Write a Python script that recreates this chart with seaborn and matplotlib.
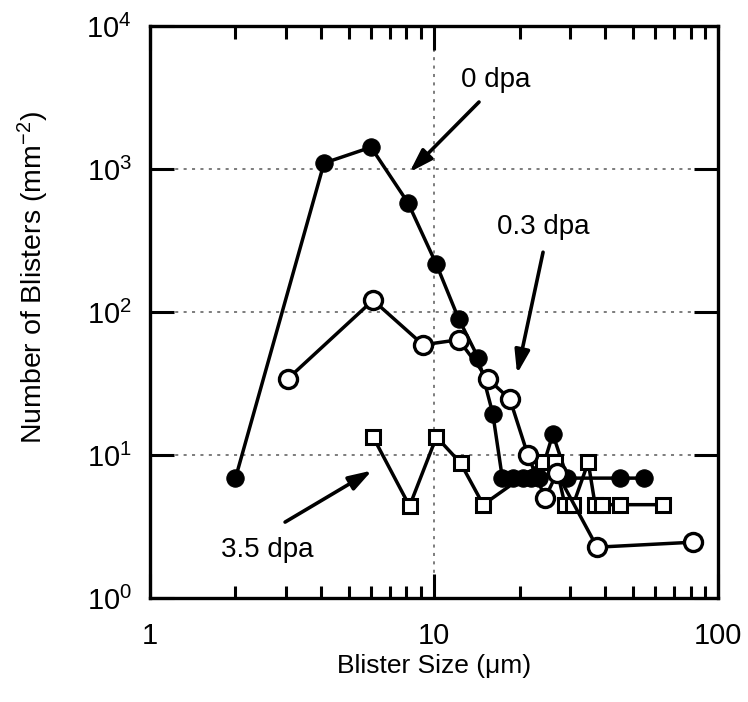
import numpy as np
import pandas as pd
import matplotlib
matplotlib.use("Agg")
import matplotlib.pyplot as plt
import matplotlib.ticker as mticker
import seaborn as sns

# 0 dpa (filled circles)
size_0 = [2.0, 4.1, 6.0, 8.1, 10.2, 12.2, 14.3, 16.1, 17.4, 19.0, 20.5, 22.0, 23.5, 26.2, 29.5, 45.0, 55.0]
num_0 = [6.9, 1100, 1420, 580, 215, 90, 48, 19.5, 6.9, 6.9, 6.9, 6.9, 6.9, 14.0, 6.9, 6.9, 6.9]

# 0.3 dpa (open circles)
size_03 = [3.05, 6.1, 9.15, 12.2, 15.5, 18.5, 21.4, 24.6, 27.1, 37.5, 81.7]
num_03 = [34, 121, 59, 64, 34, 24.6, 10.0, 5.0, 7.5, 2.27, 2.46]

# 3.5 dpa (open squares)
size_35 = [6.1, 8.2, 10.2, 12.4, 14.9, 24.2, 26.7, 28.9, 30.9, 34.9, 36.9, 39.0, 45.2, 64.0]
num_35 = [13.4, 4.4, 13.4, 8.8, 4.5, 8.9, 8.9, 4.5, 4.5, 8.9, 4.5, 4.5, 4.5, 4.5]

sns.set_style("ticks")
plt.rcParams['font.family'] = ['Liberation Sans', 'DejaVu Sans']
plt.rcParams['mathtext.fontset'] = 'custom'
plt.rcParams['mathtext.rm'] = 'Liberation Sans'
plt.rcParams['mathtext.it'] = 'Liberation Sans'
plt.rcParams['text.color'] = 'black'
plt.rcParams['axes.labelcolor'] = 'black'
plt.rcParams['xtick.color'] = 'black'
plt.rcParams['ytick.color'] = 'black'

fig = plt.figure(figsize=(7.48, 7.02), dpi=100)
ax = fig.add_axes([0.2005, 0.148, 0.7595, 0.815])

lw = 2.5
sns.lineplot(x=size_0, y=num_0, ax=ax, sort=False, estimator=None, color='black', lw=lw,
             marker='o', markersize=12.5, markerfacecolor='black', markeredgecolor='black', zorder=3)
sns.lineplot(x=size_35, y=num_35, ax=ax, sort=False, estimator=None, color='black', lw=lw,
             marker='s', markersize=10, markerfacecolor='white', markeredgecolor='black',
             markeredgewidth=2.2, zorder=4)
sns.lineplot(x=size_03, y=num_03, ax=ax, sort=False, estimator=None, color='black', lw=lw,
             marker='o', markersize=13, markerfacecolor='white', markeredgecolor='black',
             markeredgewidth=2.4, zorder=5)

ax.set_xscale('log')
ax.set_yscale('log')
ax.set_xlim(1, 100)
ax.set_ylim(1, 1e4)

ax.xaxis.set_major_locator(mticker.FixedLocator([1, 10, 100]))
ax.xaxis.set_major_formatter(mticker.FuncFormatter(lambda v, p: f"{v:g}"))
ax.xaxis.set_minor_locator(mticker.LogLocator(base=10, subs=np.arange(2, 10)))
ax.xaxis.set_minor_formatter(mticker.NullFormatter())
ax.yaxis.set_major_locator(mticker.LogLocator(base=10, numticks=10))
ax.yaxis.set_minor_locator(mticker.NullLocator())

ax.tick_params(which='both', direction='in', top=True, right=True, width=2.2)
ax.tick_params(which='major', length=17, labelsize=21)
ax.tick_params(axis='x', which='major', pad=17)
ax.tick_params(axis='y', which='major', pad=13)
ax.tick_params(which='minor', length=9)
for s in ax.spines.values():
    s.set_linewidth(2.4)
    s.set_color('black')

ax.grid(which='major', color='0.35', linestyle=(0, (2, 3.5)), lw=1.1)
ax.set_axisbelow(True)

ax.set_xlabel("Blister Size (μm)", fontsize=19, labelpad=3)
ax.set_ylabel("Number of Blisters (mm$^{-2}$)", fontsize=20.5)
ax.yaxis.set_label_coords(-0.175, 0.56)

arrow = dict(arrowstyle='-|>,head_length=1.4,head_width=0.45', lw=2.6, color='black', shrinkA=0, shrinkB=0)
ax.annotate("0 dpa", xy=(8.2, 950), xytext=(16.5, 4200), fontsize=20, ha='center', va='center')
ax.annotate("", xy=(8.2, 950), xytext=(14.4, 2940), arrowprops=arrow)
ax.annotate("0.3 dpa", xy=(19.6, 37), xytext=(24.2, 390), fontsize=20, ha='center', va='center')
ax.annotate("", xy=(19.6, 37), xytext=(24.2, 262), arrowprops=arrow)
ax.annotate("3.5 dpa", xy=(6.05, 7.8), xytext=(2.58, 2.17), fontsize=20, ha='center', va='center')
ax.annotate("", xy=(6.05, 7.8), xytext=(2.99, 3.4), arrowprops=arrow)

fig.savefig("out.png", dpi=100)
